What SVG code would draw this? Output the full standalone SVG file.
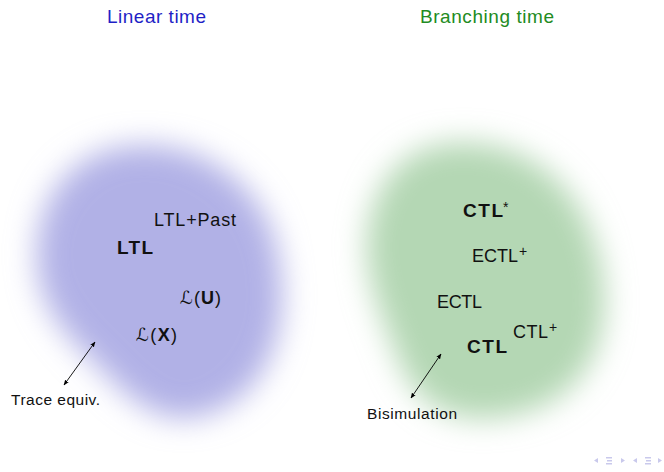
<svg xmlns="http://www.w3.org/2000/svg" width="664" height="472" viewBox="0 0 664 472">
  <defs>
    <filter id="blur" x="-30%" y="-30%" width="160%" height="160%">
      <feGaussianBlur stdDeviation="15"/>
    </filter>
    <marker id="ah" viewBox="0 0 10 10" refX="9" refY="5" markerWidth="6" markerHeight="6" orient="auto-start-reverse">
      <path d="M0,1 L10,5 L0,9 z" fill="#000"/>
    </marker>
    <style>
      text { font-family: "Liberation Sans", "DejaVu Sans", sans-serif; fill: #111; }
      .title { font-size: 19px; }
      .lbl { font-size: 18px; }
      .bold { font-size: 19px; font-weight: bold; }
      .small { font-size: 15.5px; }
      .sup { font-size: 14px; }
      .script { font-family: "DejaVu Serif", "DejaVu Sans", serif; }
      .conn { stroke: #000; stroke-width: 0.9; fill: none; marker-start: url(#ah); marker-end: url(#ah); }
      .nav { fill: #c9c9ec; }
    </style>
  </defs>
  <rect width="664" height="472" fill="#fff"/>

  <text class="title" x="107" y="23" style="fill:#1f1fc6" textLength="99">Linear time</text>
  <text class="title" x="420" y="23" style="fill:#228b22" textLength="134">Branching time</text>

  <g id="linear-region">
    <path filter="url(#blur)" fill="#b1b1e6" d="M133,146 C204,140 265,188 277,250 C293,325 270,394 207,414 C165,428 132,402 104,372 C72,340 36,310 37,255 C38,192 76,150 133,146 Z"/>
  </g>
  <g id="branching-region">
    <path filter="url(#blur)" fill="#b4d7b4" d="M455,143 C536,139 594,198 603,280 C613,366 563,414 490,418 C440,421 412,396 398,358 C382,316 360,272 369,223 C380,170 413,145 455,143 Z"/>
  </g>

  <g id="ltl-past"><text class="lbl" x="154" y="226" textLength="82">LTL+Past</text></g>
  <g id="ltl"><text class="bold" x="117" y="254" textLength="36">LTL</text></g>
  <g id="l-u"><text class="lbl" x="180" y="304" textLength="41"><tspan class="script">ℒ</tspan>(<tspan font-weight="bold">U</tspan>)</text></g>
  <g id="l-x"><text class="lbl" x="136" y="341" textLength="41"><tspan class="script">ℒ</tspan>(<tspan font-weight="bold">X</tspan>)</text></g>
  <g id="trace-equiv"><text class="small" x="11" y="405" textLength="89">Trace equiv.</text></g>

  <g id="ctl-star"><text class="bold" x="463" y="217" textLength="40">CTL</text><text class="sup" x="503" y="212">*</text></g>
  <g id="ectl-plus"><text class="lbl" x="472" y="262" textLength="46">ECTL</text><text class="sup" x="519" y="256">+</text></g>
  <g id="ectl"><text class="lbl" x="437" y="308" textLength="45">ECTL</text></g>
  <g id="ctl-plus"><text class="lbl" x="513" y="338" textLength="35">CTL</text><text class="sup" x="549" y="332">+</text></g>
  <g id="ctl"><text class="bold" x="467" y="353" textLength="40">CTL</text></g>
  <g id="bisimulation"><text class="small" x="367" y="419" textLength="90">Bisimulation</text></g>

  <g id="connectors">
    <line class="conn" x1="95" y1="342" x2="64" y2="385"/>
    <line class="conn" x1="441" y1="354" x2="411" y2="398"/>
  </g>

  <g id="nav">
    <polygon class="nav" points="594,460.5 598,458 598,463"/>
    <rect class="nav" x="606" y="457" width="6" height="1.5"/>
    <rect class="nav" x="607" y="460" width="5" height="1.5"/>
    <rect class="nav" x="606" y="463" width="6" height="1.5"/>
    <polygon class="nav" points="625,460.5 621,458 621,463"/>
    <polygon class="nav" points="633,460.5 637,458 637,463"/>
    <rect class="nav" x="645" y="457" width="6" height="1.5"/>
    <rect class="nav" x="646" y="460" width="5" height="1.5"/>
    <rect class="nav" x="645" y="463" width="6" height="1.5"/>
    <polygon class="nav" points="662,460.5 658,458 658,463"/>
  </g>
</svg>
